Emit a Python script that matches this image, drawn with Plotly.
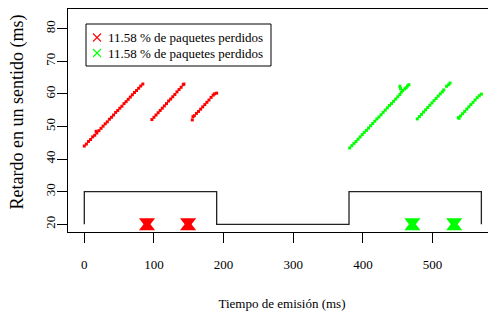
import plotly.graph_objects as go

# ---- data ----
red_x = [0, 3, 6, 9, 12, 15, 17, 18, 21, 24, 27, 30, 33, 36, 39, 42, 45, 48, 51, 54, 57, 60, 63, 66, 69, 72, 75, 78, 81, 84,
         97, 100, 103, 106, 109, 112, 115, 118, 121, 124, 127, 130, 133, 136, 139, 142, 143,
         155, 156, 158, 161, 164, 167, 170, 173, 176, 179, 182, 185, 187, 190]
red_y = [44.0, 44.6, 45.4, 46.0, 46.8, 47.3, 48.5, 48.0, 48.7, 49.4, 50.1, 50.8, 51.4, 52.2, 52.8, 53.5, 54.3, 54.9, 55.6, 56.2,
         57.0, 57.6, 58.3, 59.0, 59.7, 60.4, 61.0, 61.7, 62.4, 63.0,
         52.1, 52.8, 53.5, 54.2, 54.9, 55.6, 56.3, 57.0, 57.8, 58.4, 59.1, 59.8, 60.6, 61.3, 62.0, 62.8, 63.0,
         52.0, 53.0, 53.3, 54.0, 54.6, 55.3, 56.0, 56.7, 57.4, 58.1, 58.9, 59.6, 60.0, 60.2]

green_x = [381, 384, 387, 390, 393, 396, 399, 402, 405, 408, 411, 414, 417, 420, 423, 426, 429, 432, 435, 438, 441, 444, 447,
           450, 453, 455, 457, 460, 462, 464, 466, 453, 454,
           478, 481, 484, 487, 490, 493, 496, 499, 502, 505, 508, 511, 514, 516, 520, 523, 525,
           537, 538, 540, 543, 546, 549, 552, 555, 558, 561, 564, 567, 570]
green_y = [43.4, 44.1, 44.8, 45.4, 46.1, 46.8, 47.5, 48.2, 48.8, 49.5, 50.2, 50.9, 51.6, 52.3, 52.9, 53.6, 54.3, 55.0, 55.7,
           56.4, 57.0, 57.7, 58.4, 59.1, 59.8, 60.5, 61.0, 61.5, 61.9, 62.4, 62.8, 62.3, 61.6,
           52.3, 53.0, 53.7, 54.4, 55.1, 55.8, 56.5, 57.2, 57.9, 58.6, 59.3, 60.0, 60.6, 61.2, 62.3, 62.8, 63.3,
           52.7, 52.5, 53.2, 53.9, 54.6, 55.3, 56.0, 56.7, 57.4, 58.1, 58.8, 59.4, 59.9]

red_loss_x = [90, 149]
green_loss_x = [471, 531]
loss_y = 20

step_x = [0, 0, 190, 190, 380, 380, 570, 570]
step_y = [20, 30, 30, 20, 20, 30, 30, 20]

legend_label = "11.58 % de paquetes perdidos"
x_title = "Tiempo de emisión (ms)"
y_title = "Retardo en un sentido (ms)"
x_ticks = [0, 100, 200, 300, 400, 500]
y_ticks = [20, 30, 40, 50, 60, 70, 80]

RED = "#FF0000"
GREEN = "#00FF00"
FONT = "Liberation Serif"

# ---- geometry (pixels, page coords; page body has an 8px margin) ----
BODY = 8
W, H = 496 - BODY, 319 - BODY
ML, MR, MT = 68 - BODY, 0, 9 - BODY
MB = H - (232 - BODY)
PW, PH = W - ML - MR, H - MT - MB
XR = [-23.4, 591]
YR = [17.64, 86.0]
px_per_y = PH / (YR[1] - YR[0])


def px2paper_x(px):
    return (px - BODY - ML) / PW


def px2paper_y(py):
    return (H - MB - (py - BODY)) / PH


tri_off = 2.5 / px_per_y  # vertical offset of the two triangles (in y units)

fig = go.Figure()

fig.add_trace(go.Scatter(x=step_x, y=step_y, mode="lines",
                         line=dict(color="#222222", width=1.3), showlegend=False))

fig.add_trace(go.Scatter(x=red_x, y=red_y, mode="markers", name=legend_label,
                         marker=dict(symbol="square", size=3, color=RED), showlegend=False))
fig.add_trace(go.Scatter(x=green_x, y=green_y, mode="markers", name=legend_label,
                         marker=dict(symbol="square", size=3, color=GREEN), showlegend=False))

for lx, col in [(red_loss_x, RED), (green_loss_x, GREEN)]:
    fig.add_trace(go.Scatter(x=lx, y=[loss_y + tri_off] * len(lx), mode="markers",
                             marker=dict(symbol="triangle-down", size=14, color=col, line=dict(width=0)),
                             showlegend=False))
    fig.add_trace(go.Scatter(x=lx, y=[loss_y - tri_off] * len(lx), mode="markers",
                             marker=dict(symbol="triangle-up", size=14, color=col, line=dict(width=0)),
                             showlegend=False))

# ---- legend box (drawn) ----
shapes = [dict(type="rect", xref="paper", yref="paper",
               x0=px2paper_x(86), x1=px2paper_x(271), y0=px2paper_y(66), y1=px2paper_y(24),
               line=dict(color="black", width=1), fillcolor="white", layer="above")]
annotations = []
for row_y, col in [(37.5, RED), (53, GREEN)]:
    cx, h = 97, 4
    for dy in (-h, h):
        shapes.append(dict(type="line", xref="paper", yref="paper", layer="above",
                           x0=px2paper_x(cx - h), y0=px2paper_y(row_y - dy),
                           x1=px2paper_x(cx + h), y1=px2paper_y(row_y + dy),
                           line=dict(color=col, width=1.1)))
    annotations.append(dict(xref="paper", yref="paper", x=px2paper_x(106), y=px2paper_y(row_y),
                            text=legend_label, showarrow=False, xanchor="left", yanchor="middle",
                            font=dict(family=FONT, size=13, color="black")))

# y axis title (placed as in the reference, slightly above the plot centre)
annotations.append(dict(xref="paper", yref="paper", x=px2paper_x(17), y=px2paper_y(112.5),
                        text=y_title, showarrow=False, xanchor="center", yanchor="middle",
                        textangle=-90, font=dict(family=FONT, size=18, color="black")))

fig.update_layout(
    width=W, height=H,
    margin=dict(l=ML, r=MR, t=MT, b=MB, pad=0),
    paper_bgcolor="white", plot_bgcolor="white",
    font=dict(family=FONT, size=13, color="black"),
    showlegend=False,
    shapes=shapes, annotations=annotations,
    xaxis=dict(range=XR, tickvals=x_ticks, ticktext=[str(v) for v in x_ticks], automargin=False,
               tickfont=dict(family=FONT, size=13),
               showgrid=False, zeroline=False, showline=True, linecolor="black", linewidth=1.3,
               mirror=True, ticks="outside", ticklen=10, tickcolor="black", tickwidth=1,
               ticklabelstandoff=10,
               title=dict(text=x_title, font=dict(family=FONT, size=13), standoff=28)),
    yaxis=dict(range=YR, tickvals=y_ticks, ticktext=[str(v) for v in y_ticks], automargin=False,
               tickfont=dict(family=FONT, size=13),
               showgrid=False, zeroline=False, showline=True, linecolor="black", linewidth=1.3,
               ticks="outside", ticklen=10, tickcolor="black", tickwidth=1, tickangle=-90,
               ticklabelstandoff=-3),
)

fig.write_html("out.html")
